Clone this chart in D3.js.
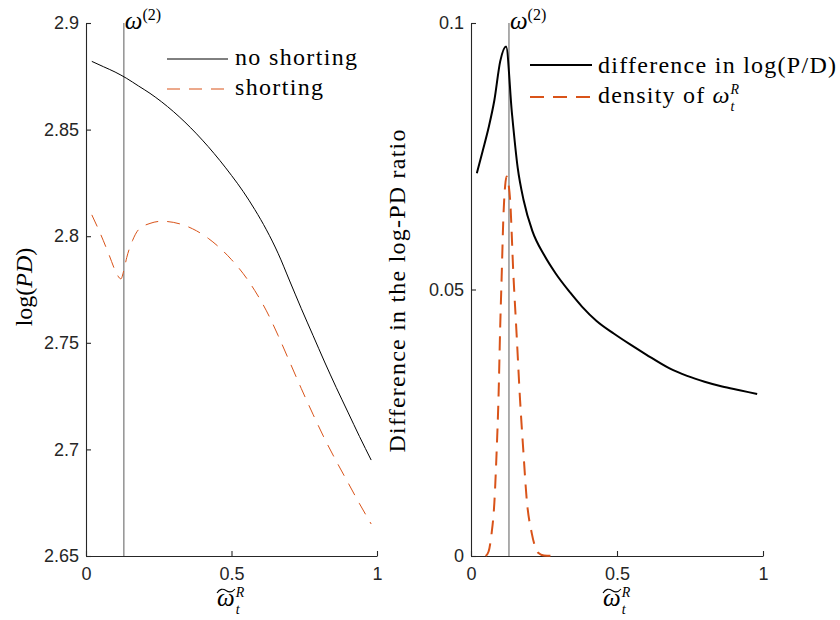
<!DOCTYPE html>
<html>
<head>
<meta charset="utf-8">
<script src="https://cdn.jsdelivr.net/npm/d3@7"></script>
<style>
body { margin: 0; background: #fff; }
</style>
</head>
<body>
<script>
// data
var noShortX = [0.02, 0.06, 0.10, 0.14, 0.18, 0.22, 0.26, 0.30, 0.34, 0.38, 0.42, 0.46, 0.50,
                0.54, 0.58, 0.62, 0.66, 0.70, 0.74, 0.78, 0.82, 0.86, 0.90, 0.94, 0.98];
var noShortY = [2.882, 2.8795, 2.877, 2.874, 2.8705, 2.867, 2.863, 2.8585, 2.8535, 2.848, 2.842, 2.8355, 2.8285,
                2.821, 2.8125, 2.803, 2.792, 2.779, 2.766, 2.7535, 2.741, 2.729, 2.7175, 2.706, 2.695];

var shortX = [0.02, 0.05, 0.08, 0.10, 0.12, 0.13, 0.14, 0.16, 0.18, 0.22, 0.26, 0.30, 0.34, 0.38, 0.42,
              0.46, 0.50, 0.54, 0.58, 0.62, 0.66, 0.70, 0.74, 0.78, 0.82, 0.86, 0.90, 0.94, 0.98];
var shortY = [2.810, 2.801, 2.791, 2.784, 2.780, 2.784, 2.790, 2.798, 2.803, 2.806, 2.807, 2.8065, 2.805, 2.8025, 2.799,
              2.7945, 2.789, 2.7825, 2.7745, 2.765, 2.7535, 2.741, 2.7285, 2.7165, 2.705, 2.6945, 2.6845, 2.6745, 2.665];

var diffX = [0.02, 0.04, 0.06, 0.08, 0.10, 0.12, 0.14, 0.16, 0.18, 0.21, 0.25, 0.29, 0.34, 0.38,
             0.43, 0.49, 0.545, 0.60, 0.68, 0.74, 0.80, 0.86, 0.92, 0.98];
var diffY = [0.0718, 0.0760, 0.0803, 0.0855, 0.0928, 0.0956, 0.0832, 0.0728, 0.0668, 0.0610, 0.0565, 0.0530, 0.0494, 0.0468,
             0.0441, 0.0417, 0.0397, 0.0378, 0.0352, 0.0338, 0.0327, 0.0318, 0.0311, 0.0304];

var densX = [0.05, 0.06, 0.07, 0.08, 0.088, 0.094, 0.10, 0.105, 0.111, 0.117, 0.122, 0.128, 0.134,
             0.145, 0.156, 0.168, 0.179, 0.191, 0.208, 0.23, 0.25, 0.30];
var densY = [0, 0.0008, 0.0040, 0.0100, 0.0199, 0.0293, 0.0430, 0.0524, 0.0637, 0.0695, 0.0712, 0.0700, 0.0668,
             0.0530, 0.0418, 0.0293, 0.0199, 0.0105, 0.0043, 0.0006, 0.0001, 0];

var xTicks = [0, 0.5, 1];
var leftYTicks = [2.65, 2.7, 2.75, 2.8, 2.85, 2.9];
var rightYTicks = [0, 0.05, 0.1];
var omega2 = 0.13;

var leftLegend = ["no shorting", "shorting"];
var rightLegend = ["difference in log(P/D)", "density of "];

var axisColor = "#262626";
var orange = "#D95319";
var serif = "Liberation Serif, Times New Roman, serif";
var sans = "Liberation Sans, Arial, sans-serif";

var svg = d3.select("body")
	.append("svg")
	.attr("width", 840)
	.attr("height", 620);

// scales
var xL = d3.scaleLinear().domain([0, 1]).range([86, 377]);
var yL = d3.scaleLinear().domain([2.65, 2.9]).range([556, 23]);
var xR = d3.scaleLinear().domain([0, 1]).range([471, 763]);
var yR = d3.scaleLinear().domain([0, 0.1]).range([556, 23]);

function drawAxes(xs, ys, yTicks)
{
	var g = svg.append("g");
	g.append("g")
		.attr("transform", "translate(0," + ys.range()[0] + ")")
		.call(d3.axisBottom(xs).tickValues(xTicks).tickSizeInner(-5).tickSizeOuter(0).tickPadding(11)
			.tickFormat(function(d) { return String(d); }));
	g.append("g")
		.attr("transform", "translate(" + xs.range()[0] + ",0)")
		.call(d3.axisLeft(ys).tickValues(yTicks).tickSizeInner(-5).tickSizeOuter(0).tickPadding(7)
			.tickFormat(function(d) { return String(d); }));
	g.selectAll("path, line").attr("stroke", axisColor).attr("stroke-width", 1.1);
	g.selectAll("text")
		.attr("fill", axisColor)
		.attr("font-family", sans)
		.attr("font-size", 18);
}

// vertical line at omega^(2) with its label
function drawOmega(xs, ys)
{
	var x = xs(omega2);
	svg.append("line")
		.attr("x1", x).attr("x2", x)
		.attr("y1", ys.range()[1]).attr("y2", ys.range()[0])
		.attr("stroke", "#8a8a8a")
		.attr("stroke-width", 1.4);
	var t = svg.append("text")
		.attr("x", x + 1)
		.attr("y", 29)
		.attr("font-family", serif)
		.attr("font-size", 25)
		.attr("fill", "#000");
	t.append("tspan").attr("font-style", "italic").text("ω");
	t.append("tspan").attr("dy", -9).attr("font-size", 16).text("(2)");
}

// omega with sup R and sub t inside one text element
function omegaRt(t, sz)
{
	t.append("tspan").attr("font-style", "italic").attr("font-size", sz).text("ω");
	var r = t.append("tspan").attr("font-style", "italic").attr("font-size", 14).attr("dy", -9).attr("dx", 1).text("R");
	var rw = r.node().getComputedTextLength();
	t.append("tspan").attr("font-style", "italic").attr("font-size", 14).attr("dy", 17).attr("dx", -rw).text("t");
}

// tilde omega label under an x axis, centered at cx
function drawXLabel(cx, by)
{
	var g = svg.append("g").attr("transform", "translate(" + cx + "," + by + ")");
	var t = g.append("text")
		.attr("x", -14).attr("y", 0)
		.attr("font-family", serif);
	omegaRt(t, 25);
	g.append("path")
		.attr("d", "M-14,-13 Q-10,-19 -5,-15.5 T4,-17")
		.attr("fill", "none")
		.attr("stroke", "#000")
		.attr("stroke-width", 1.1);
}

function pairs(xa, ya) { return d3.zip(xa, ya); }

////////////////////////////
// left panel
drawAxes(xL, yL, leftYTicks);
drawOmega(xL, yL);

var lineL = d3.line()
	.curve(d3.curveMonotoneX)
	.x(function(d) { return xL(d[0]); })
	.y(function(d) { return yL(d[1]); });

svg.append("path")
	.datum(pairs(noShortX, noShortY))
	.attr("d", lineL)
	.attr("fill", "none")
	.attr("stroke", "#000")
	.attr("stroke-width", 1);

svg.append("path")
	.datum(pairs(shortX, shortY))
	.attr("d", lineL)
	.attr("fill", "none")
	.attr("stroke", orange)
	.attr("stroke-width", 1)
	.attr("stroke-dasharray", "13,9");

// left legend
svg.append("line").attr("x1", 167).attr("x2", 228).attr("y1", 59).attr("y2", 59)
	.attr("stroke", "#000").attr("stroke-width", 1);
svg.append("line").attr("x1", 167).attr("x2", 228).attr("y1", 89).attr("y2", 89)
	.attr("stroke", orange).attr("stroke-width", 1).attr("stroke-dasharray", "13,9");
svg.append("text").attr("x", 235).attr("y", 65)
	.attr("font-family", serif).attr("font-size", 24)
	.attr("textLength", 122).attr("lengthAdjust", "spacing")
	.text(leftLegend[0]);
svg.append("text").attr("x", 235).attr("y", 95)
	.attr("font-family", serif).attr("font-size", 24)
	.attr("textLength", 88).attr("lengthAdjust", "spacing")
	.text(leftLegend[1]);

// left y label
var yl = svg.append("text")
	.attr("transform", "translate(32,287) rotate(-90)")
	.attr("text-anchor", "middle")
	.attr("font-family", serif)
	.attr("font-size", 24);
yl.append("tspan").text("log(");
yl.append("tspan").attr("font-style", "italic").text("PD");
yl.append("tspan").text(")");

drawXLabel(231, 606);

////////////////////////////
// right panel
drawAxes(xR, yR, rightYTicks);
drawOmega(xR, yR);

var lineR = d3.line()
	.x(function(d) { return xR(d[0]); })
	.y(function(d) { return yR(d[1]); });

svg.append("path")
	.datum(pairs(densX, densY))
	.attr("d", lineR.curve(d3.curveMonotoneX))
	.attr("fill", "none")
	.attr("stroke", orange)
	.attr("stroke-width", 2)
	.attr("stroke-dasharray", "14,9");

svg.append("path")
	.datum(pairs(diffX, diffY))
	.attr("d", lineR.curve(d3.curveMonotoneX))
	.attr("fill", "none")
	.attr("stroke", "#000")
	.attr("stroke-width", 2);

// right legend
svg.append("line").attr("x1", 530).attr("x2", 592).attr("y1", 65).attr("y2", 65)
	.attr("stroke", "#000").attr("stroke-width", 2);
svg.append("line").attr("x1", 530).attr("x2", 592).attr("y1", 97).attr("y2", 97)
	.attr("stroke", orange).attr("stroke-width", 2).attr("stroke-dasharray", "14,9");
svg.append("text").attr("x", 598).attr("y", 73)
	.attr("font-family", serif).attr("font-size", 24)
	.attr("textLength", 238).attr("lengthAdjust", "spacing")
	.text(rightLegend[0]);
var dens = svg.append("text").attr("x", 598).attr("y", 103)
	.attr("font-family", serif).attr("font-size", 24);
dens.append("tspan").attr("letter-spacing", 1.2).text(rightLegend[1]);
omegaRt(dens, 24);

// right y label
svg.append("text")
	.attr("transform", "translate(405,291) rotate(-90)")
	.attr("text-anchor", "middle")
	.attr("font-family", serif)
	.attr("font-size", 24)
	.attr("textLength", 323).attr("lengthAdjust", "spacing")
	.text("Difference in the log-PD ratio");

drawXLabel(617, 606);
</script>
</body>
</html>
